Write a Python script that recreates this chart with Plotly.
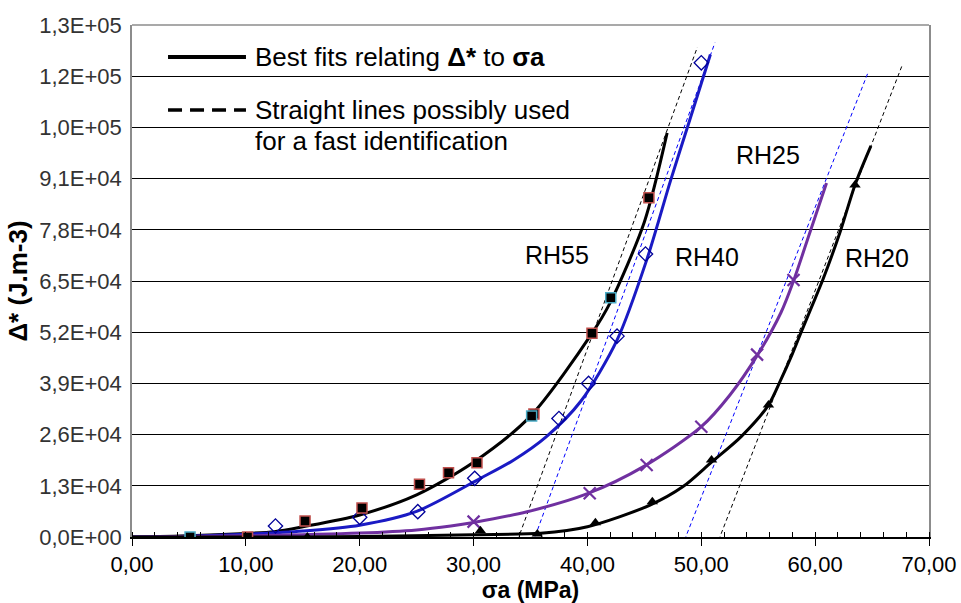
import plotly.graph_objects as go

# ---------------- data ----------------
# Fitted curves
rh55_fit_x = [0, 5, 10, 12.5, 15, 20, 25, 30, 35, 40.4, 42, 45, 47.0]
rh55_fit_y = [0, 300, 900, 1350, 2600, 5600, 10700, 19000, 30700, 51700, 59500, 80000, 102600]

rh40_fit_x = [0, 5, 10, 15, 20, 25, 30.6, 33.5, 36.4, 39.4, 42.6, 45.2, 47.3, 49.0, 50.8]
rh40_fit_y = [0, 200, 700, 1500, 3000, 6500, 14900, 19500, 25500, 34400, 50000, 70300, 90500, 106000, 122500]

rh25_fit_x = [0, 10, 20, 25, 28, 30, 34.7, 40, 45, 50, 52.5, 55, 57, 58.1, 59.5, 61.0]
rh25_fit_y = [0, 300, 1000, 1800, 2800, 3700, 6400, 11000, 18000, 28000, 36000, 46500, 57000, 65000, 77000, 89900]

rh20_fit_x = [0, 10, 20, 30, 35.9, 40, 45.5, 48.4, 50.9, 53.5, 55.9, 57.0, 58.0, 58.7, 59.7, 60.7, 62.2, 63.5, 64.9]
rh20_fit_y = [0, 0, 100, 600, 940, 2620, 8100, 12800, 19000, 25500, 33500, 40000, 46500, 51500, 58500, 65500, 77500, 89400, 99300]

# Measured points
rh55a_x = [10.15, 15.2, 20.2, 25.25, 27.8, 30.3, 35.3, 40.4, 45.4]
rh55a_y = [0, 4060, 7360, 13380, 16330, 18870, 31200, 51720, 86150]
rh55b_x = [5.1, 35.1, 42.05]
rh55b_y = [0, 30720, 60760]

rh40_x = [12.6, 20.0, 25.1, 30.1, 37.5, 40.1, 42.6, 45.1, 50.0]
rh40_y = [2790, 5000, 6430, 14900, 30100, 39000, 51000, 71860, 120400]

rh25_x = [30.0, 40.2, 45.2, 50.0, 54.9, 58.1]
rh25_y = [3900, 11100, 18280, 28000, 46300, 65250]

rh20_x = [15.4, 30.6, 35.6, 40.7, 45.7, 50.9, 55.9, 63.5]
rh20_y = [0, 1600, 760, 3640, 8960, 19550, 33500, 89400]

# Straight lines for fast identification (end points)
line55_x = [33.65, 49.66]
line55_y = [-2540, 124400]
line40_x = [35.2, 51.2]
line40_y = [-1500, 125500]
line25_x = [48.3, 64.6]
line25_y = [-2460, 117600]
line20_x = [51.3, 67.66]
line20_y = [-2500, 119900]

# Axis ticks
y_ticks = [0, 13000, 26000, 39000, 52000, 65000, 78000, 91000, 104000, 117000, 130000]
x_ticks = [0, 10, 20, 30, 40, 50, 60, 70]

# Curve labels
label_text = ["RH55", "RH40", "RH25", "RH20"]
label_x = [37.35, 50.5, 55.9, 65.4]
label_y = [71600, 71100, 97000, 70850]

# ---------------- figure ----------------
FONT = "Liberation Sans, Arial, sans-serif"
BLUE = "#1a1ac4"
PURPLE = "#7030a0"

fig = go.Figure()

for lx, ly, col in [(line55_x, line55_y, "black"), (line40_x, line40_y, "#0000ff"),
                    (line25_x, line25_y, "#0000ff"), (line20_x, line20_y, "black")]:
    fig.add_trace(go.Scatter(x=lx, y=ly, mode="lines",
                             line=dict(color=col, width=1, dash="4px,3px"),
                             showlegend=False, hoverinfo="skip"))

for fx, fy, col in [(rh55_fit_x, rh55_fit_y, "black"), (rh40_fit_x, rh40_fit_y, BLUE),
                    (rh25_fit_x, rh25_fit_y, PURPLE), (rh20_fit_x, rh20_fit_y, "black")]:
    fig.add_trace(go.Scatter(x=fx, y=fy, mode="lines",
                             line=dict(color=col, width=3, shape="spline", smoothing=0.8),
                             showlegend=False))

fig.add_trace(go.Scatter(x=rh40_x, y=rh40_y, mode="markers", showlegend=False,
                         marker=dict(symbol="diamond-open", size=11, color="#000099",
                                     line=dict(width=1.3, color="#000099"))))
fig.add_trace(go.Scatter(x=rh25_x, y=rh25_y, mode="markers", showlegend=False,
                         marker=dict(symbol="x-thin", size=12, color=PURPLE,
                                     line=dict(width=2.2, color=PURPLE))))
fig.add_trace(go.Scatter(x=rh20_x, y=rh20_y, mode="markers", showlegend=False,
                         marker=dict(symbol="triangle-up", size=10, color="black")))
fig.add_trace(go.Scatter(x=rh55a_x, y=rh55a_y, mode="markers", showlegend=False,
                         marker=dict(symbol="square", size=10, color="black",
                                     line=dict(width=1.5, color="#c0504d"))))
fig.add_trace(go.Scatter(x=rh55b_x, y=rh55b_y, mode="markers", showlegend=False,
                         marker=dict(symbol="square", size=10, color="black",
                                     line=dict(width=1.5, color="#4bacc6"))))

for t, x, y in zip(label_text, label_x, label_y):
    fig.add_annotation(x=x, y=y, text=t, showarrow=False,
                       font=dict(family=FONT, size=25, color="black"))

# Legend drawn as annotations and shapes
fig.add_shape(type="line", xref="paper", yref="paper", x0=0.0452, x1=0.143,
              y0=0.9375, y1=0.9375, line=dict(color="black", width=4))
fig.add_shape(type="line", xref="paper", yref="paper", x0=0.0452, x1=0.143,
              y0=0.834, y1=0.834, line=dict(color="black", width=3.5, dash="14px,8px"))
fig.add_annotation(xref="paper", yref="paper", x=0.152, y=0.9375, xanchor="left", yanchor="middle",
                   text="Best fits relating <b>Δ*</b> to <b>σa</b>", showarrow=False,
                   font=dict(family=FONT, size=26, color="black"))
fig.add_annotation(xref="paper", yref="paper", x=0.152, y=0.834, xanchor="left", yanchor="middle",
                   text="Straight lines possibly used", showarrow=False,
                   font=dict(family=FONT, size=26, color="black"))
fig.add_annotation(xref="paper", yref="paper", x=0.152, y=0.7734, xanchor="left", yanchor="middle",
                   text="for a fast identification", showarrow=False,
                   font=dict(family=FONT, size=26, color="black"))
# top border
fig.add_shape(type="line", xref="paper", yref="paper", x0=0, x1=1, y0=1, y1=1,
              line=dict(color="#8c8c8c", width=1.5))

fig.update_layout(
    width=961, height=603,
    margin=dict(l=132, r=32, t=25, b=66, autoexpand=False),
    paper_bgcolor="white", plot_bgcolor="white",
    font=dict(family=FONT, color="black"),
    xaxis=dict(
        range=[0, 70], tickvals=x_ticks, automargin=False,
        ticktext=[f"{v:.2f}".replace(".", ",") for v in x_ticks],
        tickfont=dict(size=22, color="black"),
        showgrid=False, zeroline=False,
        showline=True, linecolor="black", linewidth=1.5,
        ticks="outside", ticklen=7, tickcolor="black", tickwidth=1,
        ticklabelstandoff=0,
        minor=dict(dtick=2, ticks="inside", ticklen=5, tickcolor="black", showgrid=False),
        title=dict(text="<b>σa (MPa)</b>", font=dict(size=23, color="black"), standoff=8),
    ),
    yaxis=dict(
        range=[0, 130000], tickvals=y_ticks, automargin=False,
        ticktext=[f"{v:.1E}".replace(".", ",") for v in y_ticks],
        tickfont=dict(size=22, color="#333333"),
        showgrid=True, gridcolor="black", gridwidth=1,
        zeroline=False,
        showline=True, linecolor="#8c8c8c", linewidth=1.5, mirror=True,
        ticks="", ticklabelstandoff=4,
        title=dict(text="<b>Δ* (J.m-3)</b>", font=dict(size=26, color="black"), standoff=4),
    ),
)

fig.write_html("out.html", config={"displayModeBar": False},
               post_script="document.body.style.margin='0';document.body.style.overflow='hidden';")
